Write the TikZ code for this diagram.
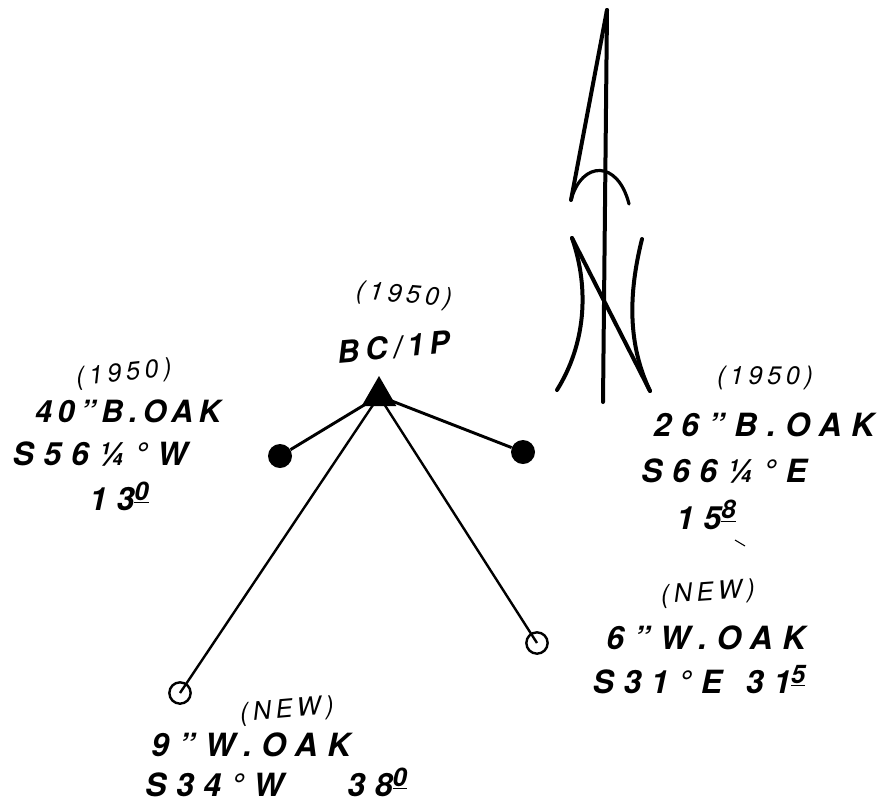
\documentclass[tikz,border=0pt]{standalone}
\usepackage{fontspec}
\setmainfont{TeX Gyre Heros}
\usetikzlibrary{shapes.geometric}
\newcommand{\minsup}[1]{\raisebox{0.32em}{\underline{\smash{\scalebox{0.8}{#1}}}}}
\tikzset{
  ink/.style={line width=3pt, line cap=round, line join=round},
  note/.style={font=\fontsize{23}{26}\selectfont\itshape\bfseries\addfontfeature{LetterSpace=18}, inner sep=0pt},
  wide note/.style={font=\fontsize{24}{26}\selectfont\itshape\bfseries\addfontfeature{LetterSpace=30}, inner sep=0pt},
  small note/.style={note, font=\fontsize{19}{22}\selectfont\itshape\addfontfeature{LetterSpace=18}},
  stake/.style={regular polygon, regular polygon sides=3, fill=black, inner sep=0pt, minimum size=30pt},
  old tree/.style={circle, fill=black, inner sep=0pt, minimum size=18pt},
  new tree/.style={circle, draw, fill=white, line width=1.8pt, inner sep=0pt, minimum size=16pt}
}
\begin{document}
\begin{tikzpicture}[x=0.75pt, y=-0.75pt]
  \useasboundingbox (0,0) rectangle (882,804);

  % ── Corner mark and witness trees ─────────────────────────────
  \node[new tree] (oak9)  at (180,693) {};
  \node[new tree] (oak6)  at (537,643) {};
  \node[stake]    (bc)    at (379,396) {};
  \node[old tree] (oak40) at (280,456) {};
  \node[old tree] (oak26) at (523,452) {};

  % ── Bearing lines ─────────────────────────────────────────────
  \draw[line width=2.2pt] (bc.center) -- (oak40);
  \draw[line width=2.2pt] (bc.center) -- (oak26);
  \draw[line width=1.8pt] (bc.center) -- (oak9.center);
  \draw[line width=1.8pt] (bc.center) -- (oak6.center);

  % ── North arrow ───────────────────────────────────────────────
  \coordinate (top)   at (607,10);
  \coordinate (foot)  at (603,402);
  \coordinate (barbl) at (571,200);
  \coordinate (barbr) at (629,204);
  \coordinate (nl)    at (572,238);
  \coordinate (nr)    at (642,239);
  \coordinate (nfl)   at (557,390);
  \coordinate (nfr)   at (650,391);
  \draw[ink] (top) -- (foot);
  \draw[ink] (top) -- (barbl);
  \draw[ink, line width=2.4pt] (barbl) .. controls (582,160) and (618,160) .. (barbr);
  \draw[ink] (nl) -- (nfr);
  \draw[ink] (nl) .. controls (590,290) and (585,345) .. (nfl);
  \draw[ink] (nr) .. controls (628,295) and (628,345) .. (nfr);

  % ── Corner label ──────────────────────────────────────────────
  \node[small note, rotate=-5] (bcyear) at (404,296) {(1950)};
  \node[note, rotate=5]        (bcname) at (394,347) {BC/1P};

  % ── Upper left tree ───────────────────────────────────────────
  \node[small note, rotate=6]  (year40) at (124,374) {(1950)};
  \node[note]                  (name40) at (128,411) {40''B.OAK};
  \node[wide note]             (brg40)  at (100,454) {S56¼°W};
  \node[wide note]             (dist40) at (119,499) {13\minsup{0}};

  % ── Upper right tree ──────────────────────────────────────────
  \node[small note]            (year26) at (765,378) {(1950)};
  \node[wide note]             (name26) at (764,425) {26''B.OAK};
  \node[wide note]             (brg26)  at (724,471) {S66¼°E};
  \node[wide note]             (dist26) at (706,518) {15\minsup{8}};
  \draw[line width=0.8pt] (735,540) coordinate (tickl) -- (745,546) coordinate (tickr);

  % ── Lower right tree ──────────────────────────────────────────
  \node[small note, rotate=4]  (year6)  at (708,594) {(NEW)};
  \node[wide note]             (name6)  at (706,638) {6''W.OAK};
  \node[wide note]             (brg6)   at (699,682) {S31°E\, 31\minsup{5}};

  % ── Lower left tree ───────────────────────────────────────────
  \node[small note, rotate=5]  (year9)  at (287,711) {(NEW)};
  \node[wide note]             (name9)  at (251,745) {9''W.OAK};
  \node[wide note]             (brg9)   at (276,785) {S34°W\qquad 38\minsup{0}};

\end{tikzpicture}
\end{document}
